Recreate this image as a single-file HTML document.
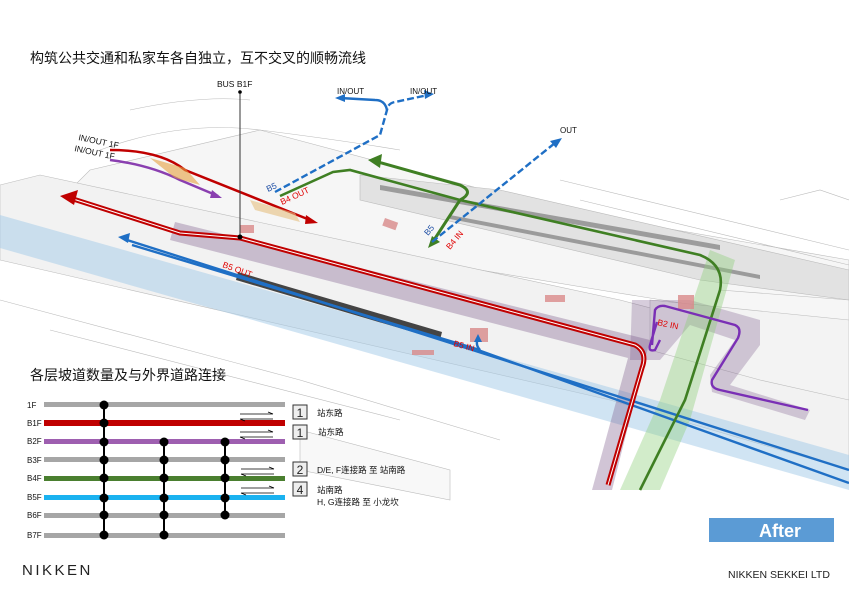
<!DOCTYPE html>
<html><head><meta charset="utf-8"><style>
body{margin:0;background:#fff}
svg{display:block}
text{font-family:"Liberation Sans","Noto Sans CJK SC",sans-serif}
</style></head><body>
<svg width="849" height="600" viewBox="0 0 849 600" xmlns="http://www.w3.org/2000/svg">
<rect width="849" height="600" fill="#fff"/>
<g fill="#f0f0f0" stroke="#bbb" stroke-width="0.6">
<polygon points="90,170 260,130 560,210 849,260 849,330 600,290 300,240 60,200" fill="#f6f6f6"/>
<polygon points="0,185 40,175 620,300 849,360 849,470 610,400 0,260" fill="#f2f2f2"/>
<polygon points="360,175 500,190 849,270 849,300 700,280 360,200" fill="#e2e2e2"/>
<polygon points="380,185 720,245 720,250 380,190" fill="#555" stroke="none" opacity=".5"/>
<polygon points="450,215 760,275 760,279 450,219" fill="#444" stroke="none" opacity=".45"/>
<polygon points="650,300 849,320 849,400 760,380 650,350" fill="#f3f3f3"/>
<polygon points="300,430 450,470 450,500 300,470" fill="#f8f8f8"/>
</g>
<g stroke="#bbb" fill="none" stroke-width="0.6">
<path d="M100,150 Q180,120 260,130 T400,150"/>
<path d="M130,110 Q200,95 250,100"/>
<path d="M560,180 L849,250"/><path d="M580,200 L849,265"/>
<path d="M0,300 L300,380 L500,440"/><path d="M50,330 L400,420"/>
<path d="M720,290 L849,300"/><path d="M780,200 L820,190 L849,200"/>
</g>
<polygon points="0,215 849,455 849,490 0,248" fill="#a9cde9" opacity=".55"/>
<polygon points="175,222 650,340 612,490 592,490 628,358 170,240" fill="#7a5a8a" opacity=".35"/>
<polygon points="632,300 690,300 760,320 760,345 730,385 810,410 805,420 712,392 710,375 735,340 690,325 660,360 630,360" fill="#7a5a8a" opacity=".3"/>
<polygon points="710,250 735,260 690,420 660,490 620,490 660,400" fill="#8fd07a" opacity=".4"/>
<polygon points="238,272 442,332 440,340 236,280" fill="#444"/>
<g fill="#d98a8a" opacity=".8">
<rect x="385" y="218" width="14" height="8" transform="rotate(20 385 218)"/>
<rect x="470" y="328" width="18" height="14"/>
<rect x="545" y="295" width="20" height="7"/>
<rect x="678" y="295" width="16" height="14"/>
<rect x="240" y="225" width="14" height="8"/>
<rect x="412" y="350" width="22" height="5"/>
</g>
<g stroke="#1f6fc5" stroke-width="2.4" fill="none">
<path d="M124,239 L849,470"/>
<path d="M132,245 L480,350 Q475,345 478,338"/>
<path d="M478,350 L849,483"/>
</g>
<polygon points="118,237 130,233 128,243" fill="#1f6fc5"/>
<polygon points="478,334 474,342 482,342" fill="#1f6fc5"/>
<path d="M70,198 L180,233 L240,238 L635,345 Q648,352 642,368 L608,485" stroke="#c00000" stroke-width="5" fill="none"/>
<path d="M70,198 L180,233 L240,238 L635,345 Q648,352 642,368 L608,485" stroke="#fff" stroke-width="1" fill="none"/>
<polygon points="60,196 78,190 74,205" fill="#c00000"/>
<path d="M110,150 Q160,150 185,170 L310,220" stroke="#c00000" stroke-width="2.5" fill="none"/>
<polygon points="318,223 306,215 305,224" fill="#c00000"/>
<path d="M110,160 Q150,165 180,180 L218,196" stroke="#8a3fb0" stroke-width="2.5" fill="none"/>
<polygon points="222,198 212,190 210,198" fill="#8a3fb0"/>
<polygon points="150,158 185,168 200,185 175,178" fill="#e6a040" opacity=".6"/>
<polygon points="250,200 295,213 300,222 255,210" fill="#e6c080" opacity=".6"/>
<path d="M378,162 L460,185 Q475,192 460,200 L434,240" stroke="#3f7f23" stroke-width="3" fill="none"/>
<polygon points="368,160 382,154 380,168" fill="#3f7f23"/>
<polygon points="428,248 432,236 440,242" fill="#3f7f23"/>
<path d="M280,196 L333,172 L350,170 L460,200 L700,255 Q725,265 720,290 L685,400 L640,490" stroke="#3f7f23" stroke-width="2.6" fill="none"/>
<path d="M275,192 L380,135 L387,110 Q388,103 395,102 L428,95" stroke="#1f6fc5" stroke-width="2.4" fill="none" stroke-dasharray="7,3"/>
<path d="M387,110 Q385,100 375,100 L340,98" stroke="#1f6fc5" stroke-width="2.4" fill="none"/>
<polygon points="335,98 345,94 345,102" fill="#1f6fc5"/>
<polygon points="434,94 424,90 425,99" fill="#1f6fc5"/>
<path d="M432,242 L555,143" stroke="#1f6fc5" stroke-width="2.4" fill="none" stroke-dasharray="7,3"/>
<polygon points="562,138 550,141 556,148" fill="#1f6fc5"/>
<path d="M657,322 L650,345 Q648,352 655,350 L660,340 M652,345 L655,310 Q658,305 665,306 L735,325 Q742,328 738,338 L712,380 Q710,388 720,390 L808,410" stroke="#7a2fb5" stroke-width="2.4" fill="none"/>
<line x1="240" y1="92" x2="240" y2="237" stroke="#333" stroke-width="1"/>
<circle cx="240" cy="92" r="1.8" fill="#000"/><circle cx="240" cy="237" r="2.5" fill="#000"/>
<g font-size="8.5" fill="#111">
<text x="217" y="87">BUS  B1F</text>
<text x="337" y="94" font-size="8">IN/OUT</text>
<text x="410" y="94" font-size="8">IN/OUT</text>
<text x="560" y="133" font-size="8">OUT</text>
<text x="78" y="140" transform="rotate(12 78 140)">IN/OUT  1F</text>
<text x="74" y="151" transform="rotate(12 74 151)">IN/OUT  1F</text>
</g>
<g font-size="8.5" fill="#e00000">
<text x="282" y="205" transform="rotate(-25 282 205)">B4 OUT</text>
<text x="222" y="267" transform="rotate(20 222 267)">B5 OUT</text>
<text x="450" y="250" transform="rotate(-50 450 250)">B4 IN</text>
<text x="453" y="346" transform="rotate(15 453 346)">B5 IN</text>
<text x="657" y="325" transform="rotate(12 657 325)">B2 IN</text>
</g>
<g font-size="8.5" fill="#1f4fa5">
<text x="268" y="192" transform="rotate(-25 268 192)">B5</text>
<text x="428" y="236" transform="rotate(-50 428 236)">B5</text>
</g>
<text x="30" y="63" font-size="14" fill="#111">构筑公共交通和私家车各自独立，互不交叉的顺畅流线</text>
<text x="30" y="380" font-size="14" fill="#111">各层坡道数量及与外界道路连接</text>
<g font-size="8" fill="#111">
<text x="27" y="408">1F</text><text x="27" y="426">B1F</text><text x="27" y="444">B2F</text><text x="27" y="463">B3F</text>
<text x="27" y="481">B4F</text><text x="27" y="500">B5F</text><text x="27" y="518">B6F</text><text x="27" y="538">B7F</text>
</g>
<rect x="44" y="402" width="241" height="5" fill="#a6a6a6"/>
<rect x="44" y="420" width="241" height="6" fill="#c00000"/>
<rect x="44" y="439" width="241" height="5" fill="#9e5fb0"/>
<rect x="44" y="457" width="241" height="5" fill="#a6a6a6"/>
<rect x="44" y="476" width="241" height="5" fill="#4a7f2f"/>
<rect x="44" y="495" width="241" height="5" fill="#1ab2f0"/>
<rect x="44" y="513" width="241" height="5" fill="#a6a6a6"/>
<rect x="44" y="533" width="241" height="5" fill="#a6a6a6"/>
<g stroke="#000" stroke-width="2">
<line x1="104" y1="405" x2="104" y2="536"/><line x1="164" y1="442" x2="164" y2="536"/><line x1="225" y1="442" x2="225" y2="516"/>
</g>
<g fill="#000">
<circle cx="104" cy="405" r="4.5"/><circle cx="104" cy="423" r="4.5"/><circle cx="104" cy="442" r="4.5"/><circle cx="104" cy="460" r="4.5"/><circle cx="104" cy="478" r="4.5"/><circle cx="104" cy="498" r="4.5"/><circle cx="104" cy="515" r="4.5"/><circle cx="104" cy="535" r="4.5"/>
<circle cx="164" cy="442" r="4.5"/><circle cx="164" cy="460" r="4.5"/><circle cx="164" cy="478" r="4.5"/><circle cx="164" cy="498" r="4.5"/><circle cx="164" cy="515" r="4.5"/><circle cx="164" cy="535" r="4.5"/>
<circle cx="225" cy="442" r="4.5"/><circle cx="225" cy="460" r="4.5"/><circle cx="225" cy="478" r="4.5"/><circle cx="225" cy="498" r="4.5"/><circle cx="225" cy="515" r="4.5"/>
</g>
<g stroke="#000" stroke-width="0.8" fill="none">
<path d="M240,414 H273 M268,412 L273,414 M240,419 H273 M240,419 L245,421"/>
<path d="M240,432 H273 M268,430 L273,432 M240,437 H273 M240,437 L245,439"/>
<path d="M241,469 H274 M269,467 L274,469 M241,474 H274 M241,474 L246,476"/>
<path d="M241,488 H274 M269,486 L274,488 M241,493 H274 M241,493 L246,495"/>
</g>
<g fill="#eee" stroke="#333" stroke-width="1">
<rect x="293" y="405" width="14" height="14"/><rect x="293" y="425" width="14" height="14"/>
<rect x="293" y="462" width="14" height="14"/><rect x="293" y="482" width="14" height="14"/>
</g>
<g font-size="12" fill="#222" text-anchor="middle">
<text x="300" y="417">1</text><text x="300" y="437">1</text><text x="300" y="474">2</text><text x="300" y="494">4</text>
</g>
<g font-size="8.5" fill="#111">
<text x="317" y="416">站东路</text><text x="318" y="435">站东路</text>
<text x="317" y="473">D/E, F连接路  至  站南路</text>
<text x="317" y="493">站南路</text><text x="317" y="505">H, G连接路  至  小龙坎</text>
</g>
<rect x="709" y="518" width="125" height="24" fill="#5b9bd5"/>
<text x="780" y="537" font-size="18" font-weight="bold" fill="#fff" text-anchor="middle">After</text>
<text x="22" y="575" font-size="15" letter-spacing="2.5" fill="#222">NIKKEN</text>
<text x="728" y="578" font-size="10.5" fill="#222">NIKKEN SEKKEI LTD</text>
</svg>
</body></html>
